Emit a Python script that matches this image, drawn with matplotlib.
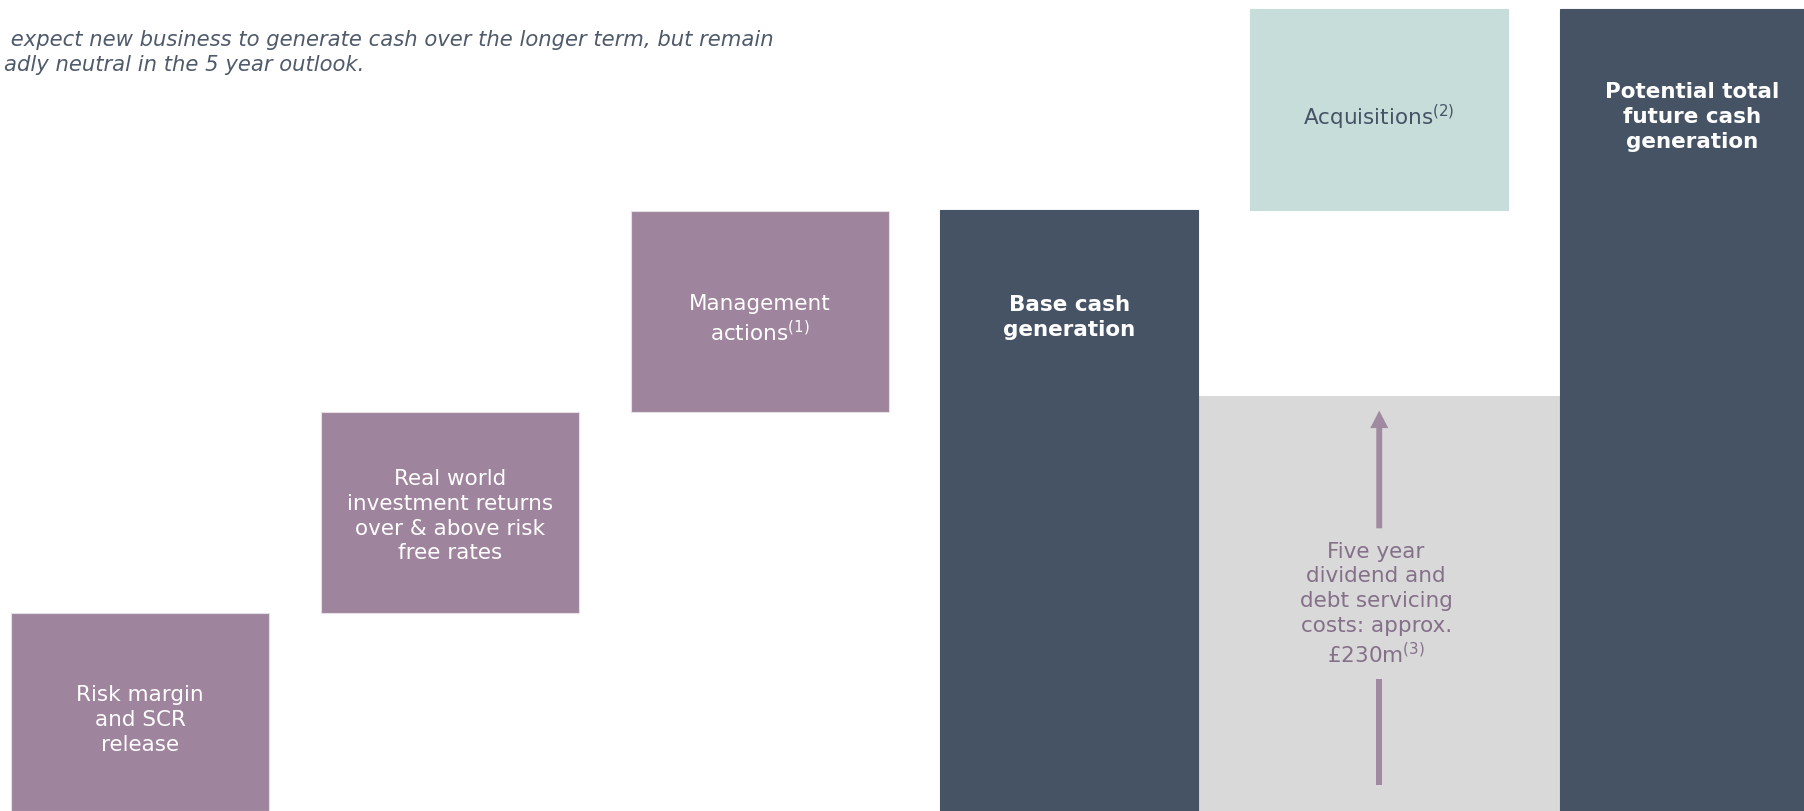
import matplotlib
matplotlib.use("Agg")
from matplotlib import pyplot as plt

plt.rcParams['font.family'] = ['DejaVu Sans']
plt.rcParams['mathtext.fontset'] = 'dejavusans'

# Data (relative units, one step ~ one block)
labels = ["Risk margin\nand SCR\nrelease",
          "Real world\ninvestment returns\nover & above risk\nfree rates",
          "Management\nactions$^{(1)}$",
          "Base cash\ngeneration",
          "Acquisitions$^{(2)}$",
          "Potential total\nfuture cash\ngeneration"]
x_pos = [0, 1, 2, 3, 4, 5]
bottoms = [0.0, 0.99, 1.99, 0.0, 3.0, 0.0]
heights = [0.99, 1.0, 1.005, 3.0, 1.0, 4.0]
kinds = ["step", "step", "step", "total", "extra", "total"]

dividend_label = "Five year\ndividend and\ndebt servicing\ncosts: approx.\n£230m$^{(3)}$"
dividend_height = 2.07

note = (" expect new business to generate cash over the longer term, but remain\n"
        "adly neutral in the 5 year outlook.")

colors = {"step": "#9E849C", "total": "#465365", "extra": "#C6DDDA"}
text_colors = {"step": "white", "total": "white", "extra": "#465365"}
weights = {"step": "normal", "total": "bold", "extra": "normal"}

bar_w = 0.833

fig = plt.figure(figsize=(18.04, 8.11), dpi=100)
ax = fig.add_axes([0, 0, 1, 1])

# grey background block for dividends, from right of base bar to left of total
ax.bar((x_pos[3] + x_pos[5]) / 2, dividend_height,
       width=(x_pos[5] - x_pos[3]) - bar_w, bottom=0,
       color="#D9D9D9", zorder=1)

for x, b, h, k, lab in zip(x_pos, bottoms, heights, kinds, labels):
    ax.bar(x, h, width=bar_w, bottom=b, color=colors[k],
           edgecolor="#E6E0E6" if k == "step" else colors[k],
           linewidth=0.8, zorder=2)
    ty = b + h / 2 if k != "total" else b + h - 0.5
    if x == 1:
        ty += 0.02
    ax.text(x + (0.01 if x == 5 else 0), ty - 0.04, lab, ha='center', va='center',
            color=text_colors[k], fontsize=15.5, fontweight=weights[k],
            linespacing=1.3, zorder=3)

# arrow and text in the dividend block
arrow_col = "#A08AA0"
ax.arrow(4, 0.13, 0, 0.53, width=0.019, head_width=0, head_length=0,
         length_includes_head=True, color=arrow_col, lw=0, zorder=3)
ax.arrow(4, 1.41, 0, 0.587, width=0.019, head_width=0.058, head_length=0.087,
         length_includes_head=True, color=arrow_col, lw=0, zorder=3)
ax.text(3.99, 1.03, dividend_label, ha='center', va='center',
        color="#85708A", fontsize=15.5, fontweight='normal',
        linespacing=1.3, zorder=3)

fig.text(0.002, 0.935, note, ha='left', va='center', style='italic',
         color="#4F5A6B", fontsize=15.2, linespacing=1.3)

ax.set_xlim(-0.452, 5.371)
ax.set_ylim(0, 4.045)
ax.axis('off')

fig.savefig("out.png", dpi=100)
